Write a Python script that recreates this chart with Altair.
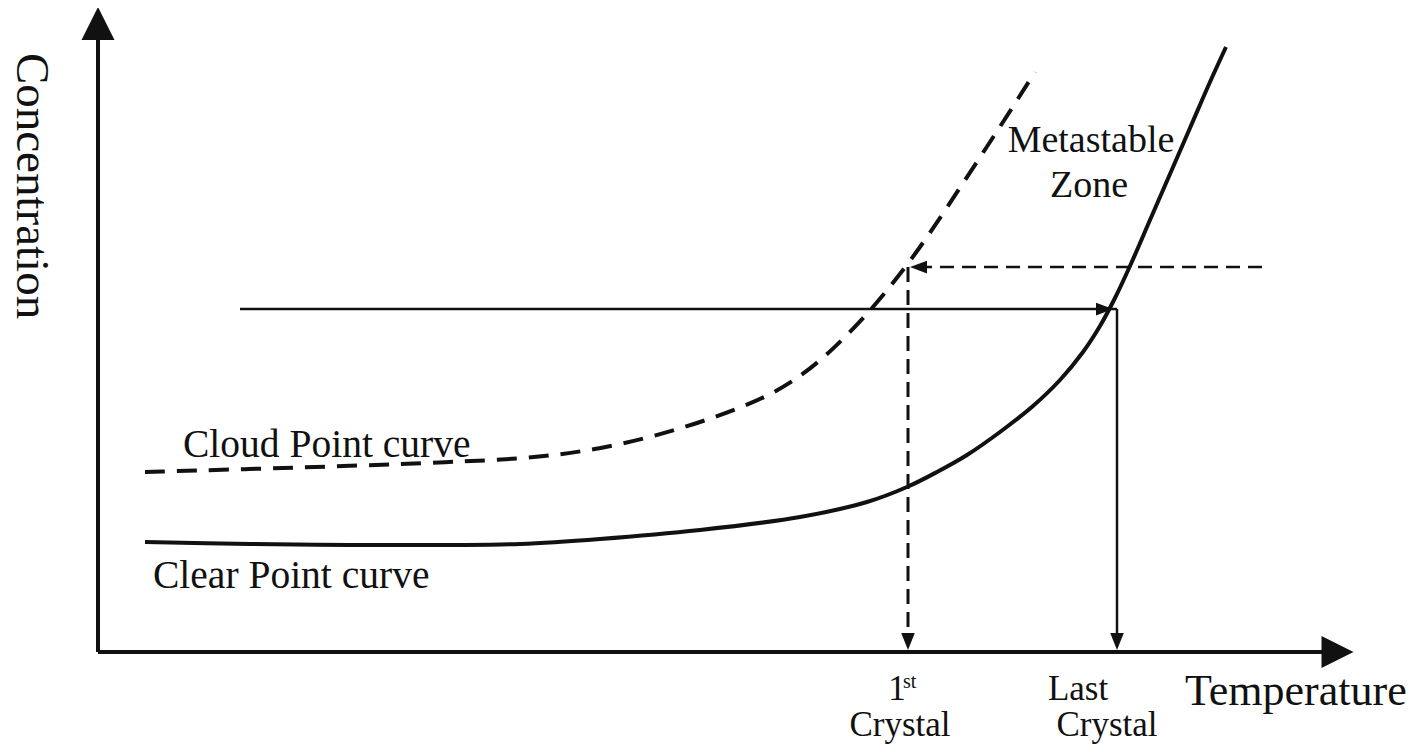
import altair as alt
import pandas as pd

# Diagram units: T = temperature (0 at the vertical axis), C = concentration (0 at the horizontal axis)
clear_T = [47, 152, 252, 352, 422, 502, 602, 702, 769, 809, 839, 869, 902, 935, 962, 985, 1002, 1017, 1032, 1052, 1072, 1092, 1112, 1128]
clear_C = [110, 108, 107, 107, 108, 113, 122, 135, 150, 165, 180, 197, 220, 246, 272, 300, 326, 354, 386, 432, 478, 524, 570, 605]

cloud_T = [47, 152, 252, 352, 422, 485, 552, 619, 669, 702, 735, 774, 800, 829, 865, 902, 937]
cloud_C = [180, 183, 186, 190, 193, 200, 214, 235, 255, 275, 302, 343, 375, 414, 469, 525, 580]

# Operating points
cool_level = 343      # concentration of the solid (heating) path
heat_level = 385      # concentration of the dashed (cooling) path
last_crystal_T = 1019
first_crystal_T = 810

axis_label_x = "Temperature"
axis_label_y = "Concentration"

W, H = 1404, 736
xs = alt.Scale(domain=[-90, 1314], nice=False, zero=False)
ys = alt.Scale(domain=[-92, 644], nice=False, zero=False)
INK = "#111111"
FONT = "Liberation Serif"


def X(f):
    return alt.X(f, type="quantitative", scale=xs, axis=None)


def Y(f):
    return alt.Y(f, type="quantitative", scale=ys, axis=None)


clear_df = pd.DataFrame({"T": clear_T, "C": clear_C})
cloud_df = pd.DataFrame({"T": cloud_T, "C": cloud_C})

clear_line = alt.Chart(clear_df).mark_line(
    color=INK, strokeWidth=4, interpolate="catmull-rom"
).encode(x=X("T"), y=Y("C"))

cloud_line = alt.Chart(cloud_df).mark_line(
    color=INK, strokeWidth=4, interpolate="basis", strokeDash=[20, 12]
).encode(x=X("T"), y=Y("C"))

# axes
axes_df = pd.DataFrame({
    "T": [0, 0], "C": [0, 0], "T2": [0, 1240], "C2": [628, 0]
})
axes = alt.Chart(axes_df).mark_rule(color=INK, strokeWidth=4).encode(
    x=X("T"), y=Y("C"), x2="T2:Q", y2="C2:Q"
)

solid_df = pd.DataFrame({
    "T": [142, last_crystal_T], "C": [cool_level, cool_level],
    "T2": [last_crystal_T, last_crystal_T], "C2": [cool_level, 12],
})
solid_rules = alt.Chart(solid_df).mark_rule(color=INK, strokeWidth=2.5).encode(
    x=X("T"), y=Y("C"), x2="T2:Q", y2="C2:Q"
)

dash_h_df = pd.DataFrame({"T": [1164], "C": [heat_level], "T2": [820], "C2": [heat_level]})
dash_h = alt.Chart(dash_h_df).mark_rule(color=INK, strokeWidth=2.5, strokeDash=[14, 8]).encode(
    x=X("T"), y=Y("C"), x2="T2:Q", y2="C2:Q"
)
dash_v_df = pd.DataFrame({"T": [first_crystal_T], "C": [heat_level], "T2": [first_crystal_T], "C2": [12]})
dash_v = alt.Chart(dash_v_df).mark_rule(color=INK, strokeWidth=3, strokeDash=[15, 8]).encode(
    x=X("T"), y=Y("C"), x2="T2:Q", y2="C2:Q"
)

UP = "M0,-1L1,1L-1,1Z"
RIGHT = "M1,0L-1,-1L-1,1Z"
DOWN = "M0,1L-0.8,-1L0.8,-1Z"
RIGHT_SMALL = "M1,0L-1,-0.75L-1,0.75Z"
LEFT_SMALL = "M-1,0L1,-0.75L1,0.75Z"

heads_df = pd.DataFrame({
    "T": [0, 1239.5, first_crystal_T, last_crystal_T, 1006.5, 820.5],
    "C": [628.5, 0, 10.5, 10.5, cool_level, heat_level],
    "shape": [UP, RIGHT, DOWN, DOWN, RIGHT_SMALL, LEFT_SMALL],
    "size": [1089, 1024, 289, 289, 289, 289],
})
heads = alt.Chart(heads_df).mark_point(filled=True, color=INK, opacity=1, strokeWidth=0).encode(
    x=X("T"), y=Y("C"),
    shape=alt.Shape("shape:N", scale=None),
    size=alt.Size("size:Q", scale=None),
)


def label(text, T, C, size, align="left", angle=0):
    df = pd.DataFrame({"text": [text], "T": [T], "C": [C]})
    return alt.Chart(df).mark_text(
        font=FONT, fontSize=size, color=INK, align=align, baseline="alphabetic", angle=angle
    ).encode(x=X("T"), y=Y("C"), text="text:N")


texts = [
    label(axis_label_y, -81, 466, 47, "center", 90),
    label("Cloud Point curve", 85, 195, 39.5),
    label("Clear Point curve", 55, 64, 39.5),
    label("Metastable", 993, 500, 38, "center"),
    label("Zone", 991, 455, 38, "center"),
    label("1", 799, -48, 35, "center"),
    label("st", 805, -36, 20),
    label("Crystal", 802, -84, 35, "center"),
    label("Last", 980, -48, 35, "center"),
    label("Crystal", 1009, -84, 35, "center"),
    label(axis_label_x, 1087, -53, 44),
]

chart = alt.layer(
    clear_line, cloud_line, axes, solid_rules, dash_h, dash_v, heads, *texts
).properties(
    width=W, height=H, padding=0, autosize=alt.AutoSizeParams(type="none"),
    background="white",
).configure_view(stroke=None)

chart.save("out.html", embed_options={"renderer": "svg", "actions": False})
